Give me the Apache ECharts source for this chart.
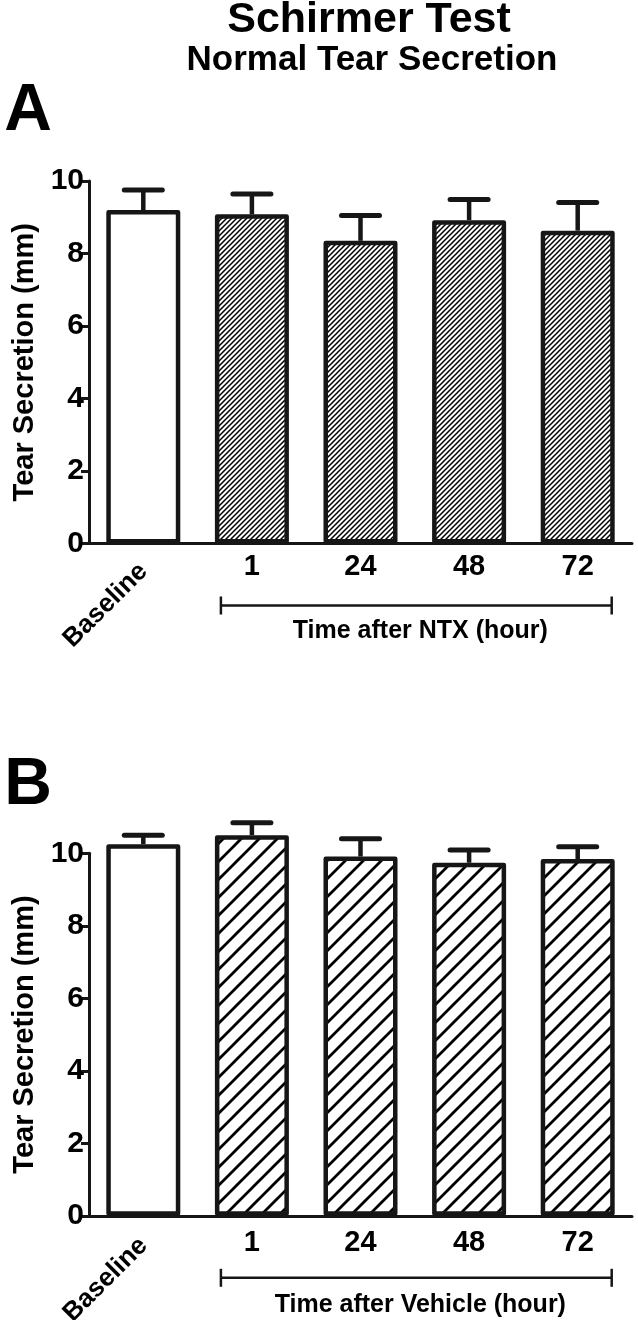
<!DOCTYPE html>
<html><head><meta charset="utf-8">
<script src="https://cdn.jsdelivr.net/npm/echarts@6/dist/echarts.min.js"></script>
<style>html,body{margin:0;padding:0;background:#fff}#c{width:638px;height:1320px}</style>
</head><body><div id="c"></div>
<script>
// ---- data ----
const categories = ['Baseline', '1', '24', '48', '72'];
const meanA = [9.20, 9.08, 8.35, 8.92, 8.63];
const semA  = [0.55, 0.56, 0.70, 0.57, 0.78];
const meanB = [10.25, 10.50, 9.91, 9.74, 9.84];
const semB  = [0.25, 0.34, 0.49, 0.35, 0.34];
const yTicks = [0, 2, 4, 6, 8, 10];
const titleMain = 'Schirmer Test';
const titleSub = 'Normal Tear Secretion';
const yName = 'Tear Secretion (mm)';
const groupA = 'Time after NTX (hour)';
const groupB = 'Time after Vehicle (hour)';

const FONT = 'Liberation Sans, Arial, Helvetica, sans-serif';
const INK = '#161616';

function makeHatch(size, lw) {
  const c = document.createElement('canvas');
  c.width = size; c.height = size;
  const ctx = c.getContext('2d');
  ctx.fillStyle = '#fff'; ctx.fillRect(0, 0, size, size);
  ctx.strokeStyle = '#000'; ctx.lineWidth = lw; ctx.lineCap = 'square';
  ctx.beginPath();
  ctx.moveTo(0, size); ctx.lineTo(size, 0);
  ctx.moveTo(-2, 2); ctx.lineTo(2, -2);
  ctx.moveTo(size - 2, size + 2); ctx.lineTo(size + 2, size - 2);
  ctx.stroke();
  return { image: c, repeat: 'repeat' };
}
const patA = makeHatch(5, 1.5);
const patB = makeHatch(18, 2.8);

const chart = echarts.init(document.getElementById('c'), null, { renderer: 'canvas' });

const grids = [
  { left: 89, right: 6, top: 181, height: 362.5, outerBoundsMode: 'none', containLabel: false },
  { left: 89, right: 6, top: 853.3, height: 362.5, outerBoundsMode: 'none', containLabel: false }
];

function xAxes(gi) {
  return [
    {
      gridIndex: gi, type: 'category', data: categories, position: 'bottom',
      axisLine: { show: true, lineStyle: { color: INK, width: 3 } },
      axisTick: { show: false },
      axisLabel: {
        formatter: v => (v === categories[0] ? '' : v),
        fontFamily: FONT, fontWeight: 'bold', fontSize: 29, color: '#000',
        margin: gi === 0 ? 9 : 13
      }
    },
    {
      gridIndex: gi, type: 'category', data: categories, position: 'bottom',
      axisLine: { show: false }, axisTick: { show: false },
      axisLabel: {
        formatter: v => (v === categories[0] ? v : ''),
        rotate: 45, fontFamily: FONT, fontWeight: 'bold', fontSize: 26, color: '#000',
        margin: gi === 0 ? 24 : 26
      }
    }
  ];
}
function yAxis(gi) {
  return {
    gridIndex: gi, type: 'value',
    min: yTicks[0], max: yTicks[yTicks.length - 1], interval: yTicks[1] - yTicks[0],
    axisLine: { show: true, lineStyle: { color: INK, width: 3 } },
    axisTick: { show: true, inside: false, length: 8, lineStyle: { color: INK, width: 3 } },
    splitLine: { show: false },
    axisLabel: { fontFamily: FONT, fontWeight: 'bold', fontSize: 30, color: '#000', margin: 5 },
    name: yName, nameLocation: 'middle', nameGap: 41, nameRotate: 90,
    nameTextStyle: { fontFamily: FONT, fontWeight: 'bold', fontSize: 29, color: '#000' }
  };
}

function barSeries(means, pat, xi, yi) {
  return {
    type: 'bar', xAxisIndex: xi, yAxisIndex: yi, barWidth: 74, clip: false, z: 3,
    data: means.map((v, i) => ({
      value: v,
      itemStyle: { color: i === 0 ? '#fff' : pat, borderColor: INK, borderWidth: 4.5, borderJoin: 'round' }
    })),
    silent: true
  };
}
function errSeries(means, sems, xi, yi) {
  return {
    type: 'custom', xAxisIndex: xi, yAxisIndex: yi, z: 2, clip: false, silent: true,
    data: means.map((v, i) => [i, v, sems[i]]),
    renderItem: (params, api) => {
      const i = api.value(0), m = api.value(1), e = api.value(2);
      const b = api.coord([i, m]);
      const t = api.coord([i, m + e]);
      const half = 19;
      return {
        type: 'group', children: [
          { type: 'line', shape: { x1: t[0], y1: b[1], x2: t[0], y2: t[1] }, style: { stroke: INK, lineWidth: 4.5 } },
          { type: 'line', shape: { x1: t[0] - half, y1: t[1], x2: t[0] + half, y2: t[1] }, style: { stroke: INK, lineWidth: 5, lineCap: 'round' } }
        ]
      };
    }
  };
}

chart.setOption({
  animation: false,
  backgroundColor: '#fff',
  grid: grids,
  xAxis: [...xAxes(0), ...xAxes(1)],
  yAxis: [yAxis(0), yAxis(1)],
  series: [
    barSeries(meanA, patA, 0, 0),
    errSeries(meanA, semA, 0, 0),
    barSeries(meanB, patB, 2, 1),
    errSeries(meanB, semB, 2, 1)
  ]
});

// annotations (titles, panel letters, group brackets) positioned from the axes
function bracket(xi, yi, text, dyLine, dyText) {
  const xl = chart.convertToPixel({ xAxisIndex: xi }, categories[1]) - 31;
  const xr = chart.convertToPixel({ xAxisIndex: xi }, categories[categories.length - 1]) + 34;
  const y0 = chart.convertToPixel({ yAxisIndex: yi }, 0);
  const yl = y0 + dyLine;
  return [
    { type: 'line', shape: { x1: xl, y1: yl, x2: xr, y2: yl }, style: { stroke: INK, lineWidth: 2.5 } },
    { type: 'line', shape: { x1: xl, y1: yl - 9, x2: xl, y2: yl + 9 }, style: { stroke: INK, lineWidth: 2.5 } },
    { type: 'line', shape: { x1: xr, y1: yl - 9, x2: xr, y2: yl + 9 }, style: { stroke: INK, lineWidth: 2.5 } },
    { type: 'text', style: { text: text, x: (xl + xr) / 2 + 4, y: y0 + dyText, align: 'center', verticalAlign: 'middle',
      font: 'bold 25px ' + FONT, fill: '#000' } }
  ];
}
function label(text, x, y, size) {
  return { type: 'text', style: { text: text, x: x, y: y, align: 'center', verticalAlign: 'middle',
    font: 'bold ' + size + 'px ' + FONT, fill: '#000' } };
}
chart.setOption({
  graphic: [
    label(titleMain, 369, 20, 43),
    label(titleSub, 372, 60, 35),
    label('A', 28, 112, 66),
    label('B', 28, 786, 66),
    ...bracket(0, 0, groupA, 62, 88),
    ...bracket(2, 1, groupB, 62, 89)
  ]
});
</script>
</body></html>
